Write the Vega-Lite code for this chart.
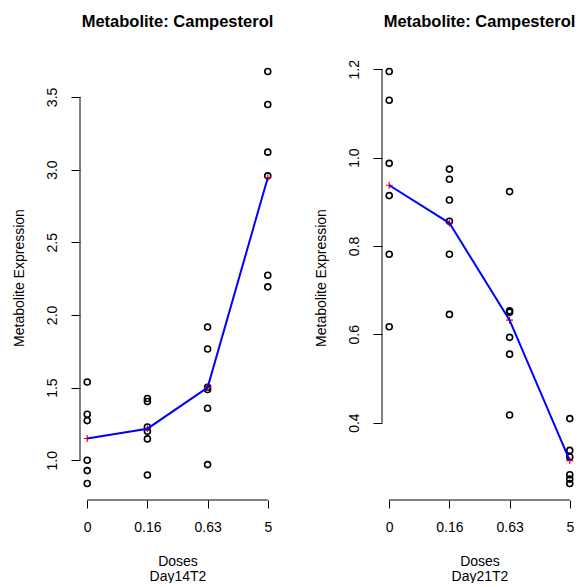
{
  "$schema": "https://vega.github.io/schema/vega-lite/v6.json",
  "background": "white",
  "padding": {"left": 12, "top": 13, "right": 0, "bottom": 0},
  "spacing": 39,
  "config": {
    "view": {"stroke": null},
    "font": "Liberation Sans",
    "title": {"font": "Liberation Sans", "fontSize": 16.5, "fontWeight": "bold", "color": "black", "anchor": "middle", "frame": "group", "offset": 25},
    "axis": {"labelFont": "Liberation Sans", "labelFontSize": 14, "labelColor": "black", "titleFont": "Liberation Sans", "titleFontSize": 14, "titleFontWeight": "normal", "titleColor": "black", "tickColor": "black", "tickWidth": 1, "domain": false, "grid": false, "labelOverlap": false, "labelFlush": false},
    "axisY": {"labelAngle": -90, "labelAlign": "center", "labelBaseline": "alphabetic", "tickSize": 9, "labelPadding": 15, "titlePadding": 19},
    "axisX": {"tickSize": 8, "labelPadding": 12, "titlePadding": 20, "titleLineHeight": 15}
  },
  "hconcat": [
    {
      "width": 195, "height": 445,
      "title": "Metabolite: Campesterol",
      "data": {"values": [
        {"dose": 0, "value": 1.539}, {"dose": 0, "value": 1.317}, {"dose": 0, "value": 1.273}, {"dose": 0, "value": 1.000}, {"dose": 0, "value": 0.929}, {"dose": 0, "value": 0.840},
        {"dose": 0.16, "value": 1.425}, {"dose": 0.16, "value": 1.404}, {"dose": 0.16, "value": 1.229}, {"dose": 0.16, "value": 1.200}, {"dose": 0.16, "value": 1.147}, {"dose": 0.16, "value": 0.899},
        {"dose": 0.63, "value": 1.917}, {"dose": 0.63, "value": 1.766}, {"dose": 0.63, "value": 1.502}, {"dose": 0.63, "value": 1.487}, {"dose": 0.63, "value": 1.358}, {"dose": 0.63, "value": 0.970},
        {"dose": 5, "value": 3.675}, {"dose": 5, "value": 3.448}, {"dose": 5, "value": 3.120}, {"dose": 5, "value": 2.957}, {"dose": 5, "value": 2.273}, {"dose": 5, "value": 2.193}
      ]},
      "transform": [{"window": [{"op": "dense_rank", "as": "rank"}], "sort": [{"field": "dose", "order": "ascending"}]}],
      "layer": [
        {
          "mark": {"type": "point", "shape": "circle", "filled": false, "stroke": "black", "strokeWidth": 1.6, "size": 36, "opacity": 1},
          "encoding": {
            "x": {"field": "rank", "type": "quantitative", "scale": {"domain": [0.88, 4.12], "nice": false, "zero": false}, "axis": {"values": [1, 2, 3, 4], "labelExpr": "['0','0.16','0.63','5'][datum.value-1]", "title": ["Doses", "Day14T2"]}},
            "y": {"field": "value", "type": "quantitative", "scale": {"domain": [0.7266, 3.7884], "nice": false, "zero": false}, "axis": {"values": [1, 1.5, 2, 2.5, 3, 3.5], "format": ".1f", "title": "Metabolite Expression"}}
          }
        },
        {
          "transform": [{"aggregate": [{"op": "mean", "field": "value", "as": "value"}], "groupby": ["rank"]}],
          "mark": {"type": "point", "shape": "M-1,0H1M0,-1V1", "filled": false, "stroke": "red", "strokeWidth": 1.2, "size": 49, "opacity": 1},
          "encoding": {
            "x": {"field": "rank", "type": "quantitative"},
            "y": {"field": "value", "type": "quantitative"}
          }
        },
        {
          "transform": [{"aggregate": [{"op": "mean", "field": "value", "as": "value"}], "groupby": ["rank"]}],
          "mark": {"type": "line", "color": "#0000FF", "strokeWidth": 2},
          "encoding": {
            "x": {"field": "rank", "type": "quantitative"},
            "y": {"field": "value", "type": "quantitative"}
          }
        },
        {
          "data": {"values": [{}]},
          "mark": {"type": "rule", "color": "black", "strokeWidth": 1},
          "encoding": {"x": {"datum": 1, "type": "quantitative"}, "x2": {"datum": 4}, "y": {"datum": 0.7266, "type": "quantitative"}}
        },
        {
          "data": {"values": [{}]},
          "mark": {"type": "rule", "color": "black", "strokeWidth": 1},
          "encoding": {"x": {"datum": 0.88, "type": "quantitative"}, "y": {"datum": 1.0, "type": "quantitative"}, "y2": {"datum": 3.5}}
        }
      ]
    },
    {
      "width": 195, "height": 445,
      "title": "Metabolite: Campesterol",
      "data": {"values": [
        {"dose": 0, "value": 1.195}, {"dose": 0, "value": 1.130}, {"dose": 0, "value": 0.987}, {"dose": 0, "value": 0.914}, {"dose": 0, "value": 0.781}, {"dose": 0, "value": 0.617},
        {"dose": 0.16, "value": 0.974}, {"dose": 0.16, "value": 0.951}, {"dose": 0.16, "value": 0.904}, {"dose": 0.16, "value": 0.856}, {"dose": 0.16, "value": 0.781}, {"dose": 0.16, "value": 0.645},
        {"dose": 0.63, "value": 0.923}, {"dose": 0.63, "value": 0.653}, {"dose": 0.63, "value": 0.650}, {"dose": 0.63, "value": 0.593}, {"dose": 0.63, "value": 0.555}, {"dose": 0.63, "value": 0.417},
        {"dose": 5, "value": 0.409}, {"dose": 5, "value": 0.337}, {"dose": 5, "value": 0.322}, {"dose": 5, "value": 0.282}, {"dose": 5, "value": 0.272}, {"dose": 5, "value": 0.262}
      ]},
      "transform": [{"window": [{"op": "dense_rank", "as": "rank"}], "sort": [{"field": "dose", "order": "ascending"}]}],
      "layer": [
        {
          "mark": {"type": "point", "shape": "circle", "filled": false, "stroke": "black", "strokeWidth": 1.6, "size": 36, "opacity": 1},
          "encoding": {
            "x": {"field": "rank", "type": "quantitative", "scale": {"domain": [0.88, 4.12], "nice": false, "zero": false}, "axis": {"values": [1, 2, 3, 4], "labelExpr": "['0','0.16','0.63','5'][datum.value-1]", "title": ["Doses", "Day21T2"]}},
            "y": {"field": "value", "type": "quantitative", "scale": {"domain": [0.2247, 1.2323], "nice": false, "zero": false}, "axis": {"values": [0.4, 0.6, 0.8, 1.0, 1.2], "format": ".1f", "title": "Metabolite Expression"}}
          }
        },
        {
          "transform": [{"aggregate": [{"op": "mean", "field": "value", "as": "value"}], "groupby": ["rank"]}],
          "mark": {"type": "point", "shape": "M-1,0H1M0,-1V1", "filled": false, "stroke": "red", "strokeWidth": 1.2, "size": 49, "opacity": 1},
          "encoding": {
            "x": {"field": "rank", "type": "quantitative"},
            "y": {"field": "value", "type": "quantitative"}
          }
        },
        {
          "transform": [{"aggregate": [{"op": "mean", "field": "value", "as": "value"}], "groupby": ["rank"]}],
          "mark": {"type": "line", "color": "#0000FF", "strokeWidth": 2},
          "encoding": {
            "x": {"field": "rank", "type": "quantitative"},
            "y": {"field": "value", "type": "quantitative"}
          }
        },
        {
          "data": {"values": [{}]},
          "mark": {"type": "rule", "color": "black", "strokeWidth": 1},
          "encoding": {"x": {"datum": 1, "type": "quantitative"}, "x2": {"datum": 4}, "y": {"datum": 0.2247, "type": "quantitative"}}
        },
        {
          "data": {"values": [{}]},
          "mark": {"type": "rule", "color": "black", "strokeWidth": 1},
          "encoding": {"x": {"datum": 0.88, "type": "quantitative"}, "y": {"datum": 0.4, "type": "quantitative"}, "y2": {"datum": 1.2}}
        }
      ]
    }
  ],
  "resolve": {"scale": {"y": "independent", "x": "independent"}}
}
